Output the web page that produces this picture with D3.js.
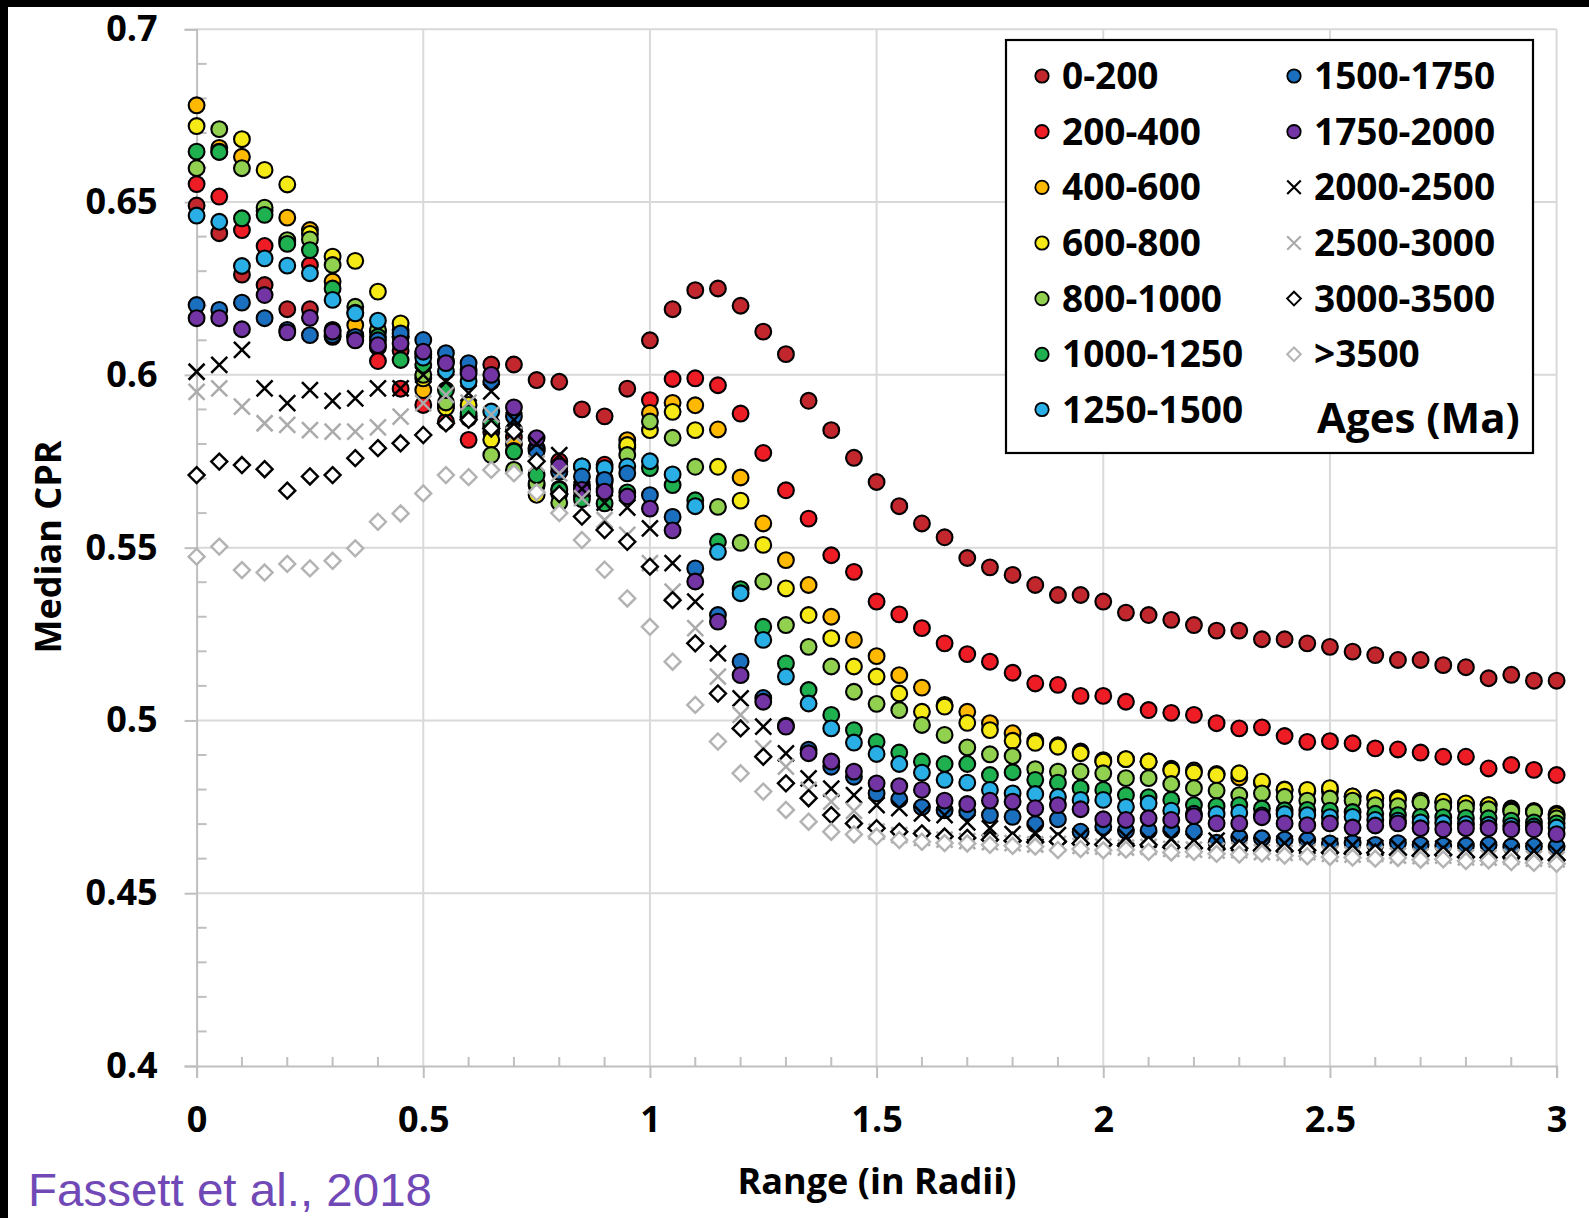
<!DOCTYPE html>
<html>
<head>
<meta charset="utf-8">
<script src="https://cdn.jsdelivr.net/npm/d3@7"></script>
<style>
  html, body { margin: 0; padding: 0; background: #fff; }
  svg { display: block; }
</style>
</head>
<body>
<svg id="chart" width="1589" height="1218"></svg>
<script>
// Range from crater centre, in crater radii
const ranges = [0,0.05,0.1,0.15,0.2,0.25,0.3,0.35,0.4,0.45,0.5,0.55,0.6,0.65,0.7,0.75,0.8,0.85,0.9,0.95,
  1,1.05,1.1,1.15,1.2,1.25,1.3,1.35,1.4,1.45,1.5,1.55,1.6,1.65,1.7,1.75,1.8,1.85,1.9,1.95,
  2,2.05,2.1,2.15,2.2,2.25,2.3,2.35,2.4,2.45,2.5,2.55,2.6,2.65,2.7,2.75,2.8,2.85,2.9,2.95,3];

// Median CPR per age bin (Ma)
const cpr0_200 = [0.649,0.641,0.629,0.626,0.619,0.619,0.613,0.611,0.608,0.607,
  0.606,0.604,0.6015,0.603,0.603,0.5985,0.598,0.590,0.588,0.596,
  0.610,0.619,0.6245,0.625,0.620,0.6125,0.606,0.5925,0.584,0.576,
  0.569,0.562,0.557,0.553,0.547,0.5443,0.5421,0.5392,0.5363,0.5363,
  0.5344,0.5312,0.5305,0.5291,0.5276,0.526,0.526,0.5235,0.5235,0.5223,
  0.5213,0.5199,0.5189,0.5175,0.5175,0.516,0.5154,0.5122,0.5132,0.5115,0.5115];
const cpr200_400 = [0.6552,0.6516,0.6419,0.6373,0.6385,0.6318,0.611,0.6115,0.604,0.596,
  0.5913,0.5865,0.5812,0.5835,0.582,0.5785,0.575,0.5735,0.574,0.579,
  0.5927,0.5988,0.599,0.597,0.5888,0.5774,0.5666,0.5584,0.5478,0.543,
  0.5344,0.5307,0.5267,0.5223,0.5192,0.517,0.5138,0.5107,0.5103,0.5071,
  0.5071,0.5054,0.503,0.5022,0.5016,0.4992,0.4977,0.498,0.4955,0.4938,
  0.494,0.4934,0.4919,0.4916,0.4907,0.4895,0.4895,0.4861,0.4871,0.4857,0.4842];
const cpr400_600 = [0.678,0.6657,0.6631,0.6475,0.6455,0.6419,0.627,0.6144,0.6125,0.613,
  0.5956,0.591,0.5875,0.585,0.580,0.568,0.567,0.568,0.570,0.5811,
  0.589,0.5919,0.5912,0.5842,0.5703,0.557,0.5464,0.5392,0.530,0.5233,
  0.5186,0.5131,0.5095,0.5045,0.5025,0.4992,0.4963,0.494,0.4928,0.491,
  0.4885,0.4888,0.4881,0.486,0.4855,0.4845,0.4835,0.482,0.480,0.4795,
  0.4795,0.478,0.4775,0.4775,0.4765,0.4762,0.4758,0.4755,0.4745,0.4735,0.473];
const cpr600_800 = [0.672,0.6646,0.6682,0.6593,0.6551,0.6408,0.6342,0.633,0.6241,0.6149,
  0.599,0.5905,0.5913,0.5812,0.578,0.5653,0.5655,0.567,0.569,0.5797,
  0.584,0.5893,0.584,0.5734,0.5636,0.5508,0.5382,0.5305,0.5238,0.5156,
  0.5127,0.5078,0.5025,0.504,0.4993,0.4972,0.4941,0.4935,0.4924,0.4905,
  0.4881,0.4888,0.4881,0.4855,0.4849,0.4842,0.4847,0.4823,0.4799,0.4799,
  0.4804,0.478,0.4775,0.4771,0.4768,0.4765,0.476,0.4755,0.474,0.4738,0.4725];
const cpr800_1000 = [0.6598,0.6711,0.6598,0.6484,0.639,0.6392,0.6318,0.6197,0.613,0.611,
  0.600,0.592,0.588,0.5768,0.5725,0.5686,0.563,0.565,0.567,0.5768,
  0.5865,0.5818,0.5734,0.5618,0.5514,0.5402,0.5276,0.5213,0.5156,0.5083,
  0.5048,0.503,0.4987,0.4958,0.4922,0.4902,0.4897,0.4859,0.4852,0.4852,
  0.4847,0.4833,0.4833,0.4816,0.4804,0.4797,0.4784,0.4789,0.4779,0.4768,
  0.4774,0.4768,0.4755,0.4752,0.4762,0.475,0.4746,0.4743,0.4736,0.4735,0.4717];
const cpr1000_1250 = [0.6646,0.6645,0.6453,0.6463,0.6379,0.6361,0.625,0.618,0.611,0.6043,
  0.6029,0.5956,0.5889,0.586,0.5778,0.571,0.5667,0.564,0.5628,0.566,
  0.573,0.5681,0.5637,0.5517,0.538,0.5271,0.5165,0.5088,0.5016,0.4972,
  0.4938,0.4907,0.4881,0.4874,0.4874,0.4842,0.485,0.4828,0.482,0.4804,
  0.4799,0.4784,0.4778,0.477,0.4755,0.4752,0.4755,0.4745,0.474,0.4741,
  0.4739,0.4735,0.473,0.4726,0.4721,0.472,0.4718,0.4717,0.471,0.4705,0.4702];
const cpr1250_1500 = [0.6461,0.6443,0.6315,0.6337,0.6316,0.6294,0.6217,0.6178,0.6157,0.611,
  0.605,0.601,0.5981,0.5894,0.5841,0.5788,0.572,0.5735,0.573,0.5735,
  0.575,0.5712,0.562,0.5488,0.5368,0.5233,0.5127,0.5049,0.4977,0.4936,
  0.4903,0.4874,0.4849,0.4828,0.482,0.4799,0.4789,0.4787,0.4779,0.477,
  0.477,0.475,0.476,0.4739,0.473,0.4729,0.4733,0.4725,0.4729,0.4726,
  0.472,0.4721,0.4712,0.471,0.4705,0.4703,0.470,0.4698,0.4695,0.4693,0.469];
const cpr1500_1750 = [0.6202,0.6188,0.6209,0.6164,0.613,0.6115,0.6115,0.611,0.610,0.612,
  0.6101,0.6063,0.6034,0.598,0.588,0.578,0.572,0.5706,0.5696,0.5715,
  0.5652,0.5589,0.544,0.5305,0.517,0.5065,0.4985,0.4915,0.4866,0.4837,
  0.4789,0.4772,0.4749,0.474,0.4735,0.4726,0.4721,0.470,0.4714,0.4678,
  0.4692,0.4681,0.4681,0.4683,0.4678,0.4646,0.4662,0.4659,0.4655,0.4654,
  0.4644,0.4645,0.464,0.4645,0.464,0.4638,0.4638,0.464,0.4635,0.4636,0.4635];
const cpr1750_2000 = [0.6164,0.6164,0.6132,0.6231,0.6123,0.6165,0.6125,0.610,0.6086,0.6091,
  0.6067,0.6034,0.6005,0.600,0.5906,0.5817,0.5735,0.5667,0.5662,0.5648,
  0.5613,0.555,0.5402,0.5286,0.5131,0.5054,0.4982,0.4905,0.4881,0.4852,
  0.4818,0.481,0.4799,0.4768,0.4758,0.4768,0.4765,0.4746,0.4755,0.4743,
  0.4714,0.4712,0.4717,0.4712,0.4723,0.4702,0.4702,0.472,0.4702,0.4697,
  0.4702,0.469,0.4696,0.4702,0.4688,0.4685,0.4688,0.4688,0.4685,0.4685,0.4671];
const cpr2000_2500 = [0.6009,0.6029,0.6072,0.5961,0.5918,0.5956,0.5925,0.5932,0.5961,0.5961,
  0.600,0.598,0.5947,0.5952,0.587,0.580,0.5768,0.567,0.563,0.5616,
  0.5556,0.5455,0.5344,0.5194,0.5064,0.4982,0.4905,0.4832,0.4803,0.4784,
  0.4755,0.4746,0.4731,0.4726,0.4705,0.4688,0.4671,0.4675,0.4668,0.4665,
  0.4662,0.4664,0.4655,0.4658,0.4650,0.4652,0.4645,0.4641,0.4644,0.4637,
  0.4636,0.4639,0.4631,0.4634,0.4628,0.4630,0.4624,0.4627,0.4621,0.4623,0.4618];
const cpr2500_3000 = [0.5951,0.5961,0.5908,0.586,0.5855,0.584,0.5836,0.5836,0.5848,0.5879,
  0.5918,0.5942,0.592,0.5885,0.5826,0.5744,0.5715,0.5643,0.558,0.5537,
  0.5455,0.5373,0.5267,0.5127,0.5016,0.4919,0.4866,0.4799,0.4765,0.4738,
  0.4678,0.4668,0.466,0.4655,0.4651,0.4648,0.4645,0.4641,0.4643,0.4637,
  0.4635,0.4632,0.4634,0.4628,0.4626,0.4623,0.4625,0.4619,0.4617,0.4619,
  0.4614,0.4612,0.4614,0.4609,0.4607,0.4609,0.4604,0.4603,0.4605,0.4600,0.4598];
const cpr3000_3500 = [0.571,0.5749,0.5739,0.5727,0.5665,0.5706,0.571,0.5759,0.5788,0.5802,
  0.5826,0.586,0.587,0.5845,0.5836,0.575,0.5655,0.559,0.5551,0.5517,
  0.5445,0.5348,0.5223,0.5078,0.4977,0.4895,0.4818,0.4775,0.4726,0.4702,
  0.4688,0.4678,0.4673,0.4664,0.466,0.4655,0.4652,0.4648,0.465,0.4644,
  0.4641,0.4638,0.4640,0.4633,0.4631,0.4628,0.463,0.4624,0.4622,0.4624,
  0.4618,0.4615,0.4617,0.4611,0.4609,0.4611,0.4605,0.4603,0.4605,0.4599,0.4596];
const cprOver3500 = [0.5474,0.5503,0.5435,0.5428,0.5453,0.544,0.5462,0.5498,0.5575,0.5599,
  0.5657,0.571,0.5704,0.5725,0.5715,0.566,0.560,0.5522,0.5436,0.5353,
  0.5271,0.517,0.5045,0.4939,0.4847,0.4794,0.4741,0.4707,0.4678,0.467,
  0.4664,0.4654,0.4649,0.4645,0.4644,0.4640,0.4637,0.4635,0.4625,0.4628,
  0.4624,0.4626,0.4620,0.4618,0.4620,0.4614,0.4612,0.4615,0.4609,0.4607,
  0.4605,0.4603,0.4600,0.4602,0.4597,0.4598,0.4593,0.4595,0.4590,0.4588,0.4585];

const ageLabels = ["0-200","200-400","400-600","600-800","800-1000","1000-1250","1250-1500",
  "1500-1750","1750-2000","2000-2500","2500-3000","3000-3500",">3500"];
const xTickValues = [0, 0.5, 1, 1.5, 2, 2.5, 3];
const yTickValues = [0.4, 0.45, 0.5, 0.55, 0.6, 0.65, 0.7];

// Marker styling per age bin
const markerStyles = [
  { kind: "circle", fill: "#C1272D" },
  { kind: "circle", fill: "#EE1C25" },
  { kind: "circle", fill: "#FFB900" },
  { kind: "circle", fill: "#F6EA16" },
  { kind: "circle", fill: "#92D050" },
  { kind: "circle", fill: "#1FB04F" },
  { kind: "circle", fill: "#29AEE6" },
  { kind: "circle", fill: "#1A6FBF" },
  { kind: "circle", fill: "#7334A4" },
  { kind: "cross",  stroke: "#000000" },
  { kind: "cross",  stroke: "#ABABAB" },
  { kind: "diamond", stroke: "#000000" },
  { kind: "diamond", stroke: "#B3B3B3" }
];
const seriesValues = [cpr0_200, cpr200_400, cpr400_600, cpr600_800, cpr800_1000, cpr1000_1250,
  cpr1250_1500, cpr1500_1750, cpr1750_2000, cpr2000_2500, cpr2500_3000, cpr3000_3500, cprOver3500];

const series = ageLabels.map((label, i) => ({
  label, style: markerStyles[i],
  points: ranges.map((r, j) => ({ r, v: seriesValues[i][j] }))
}));

const svg = d3.select("#chart");
const FONT = "'Open Sans', 'DejaVu Sans', sans-serif";

const x = d3.scaleLinear().domain([0, 3]).range([196.6, 1556.6]);
const y = d3.scaleLinear().domain([0.4, 0.7]).range([1066, 29.3]);

// Gridlines
const grid = svg.append("g").attr("stroke", "#D9D9D9").attr("stroke-width", 2);
grid.selectAll("line.h").data(yTickValues.filter(d => d > 0.4)).join("line")
  .attr("x1", x(0)).attr("x2", x(3)).attr("y1", d => y(d)).attr("y2", d => y(d));
grid.selectAll("line.v").data(xTickValues.filter(d => d > 0)).join("line")
  .attr("x1", d => x(d)).attr("x2", d => x(d)).attr("y1", y(0.4)).attr("y2", y(0.7));

// Minor ticks (inside)
const minor = svg.append("g").attr("stroke", "#BFBFBF").attr("stroke-width", 2);
minor.selectAll("line.my").data(d3.range(41, 70).filter(k => k % 5 !== 0).map(k => k / 100)).join("line")
  .attr("x1", x(0)).attr("x2", x(0) + 10).attr("y1", d => y(d)).attr("y2", d => y(d));
minor.selectAll("line.mx").data(d3.range(1, 30).filter(k => k % 5 !== 0).map(k => k / 10)).join("line")
  .attr("x1", d => x(d)).attr("x2", d => x(d)).attr("y1", y(0.4)).attr("y2", y(0.4) - 9);

// Axes
const xAxis = svg.append("g").attr("transform", `translate(0,${y(0.4)})`)
  .call(d3.axisBottom(x).tickValues(xTickValues).tickFormat(d => String(d)).tickSize(12).tickPadding(28));
const yAxis = svg.append("g").attr("transform", `translate(${x(0)},0)`)
  .call(d3.axisLeft(y).tickValues(yTickValues).tickFormat(d => String(d)).tickSize(12).tickPadding(27));
[xAxis, yAxis].forEach(a => {
  a.select(".domain").attr("stroke", "#BFBFBF").attr("stroke-width", 2);
  a.selectAll(".tick line").attr("stroke", "#BFBFBF").attr("stroke-width", 2);
  a.selectAll(".tick text").attr("fill", "#000").style("font-family", FONT)
    .style("font-size", "36px").style("font-weight", 700);
});

// Marker drawing
function drawMarker(sel, style, scale) {
  const k = scale || 1;
  if (style.kind === "circle") {
    sel.append("circle").attr("r", 7.9 * k).attr("fill", style.fill)
      .attr("stroke", "#000").attr("stroke-width", 2.1 * k);
  } else if (style.kind === "cross") {
    const s = 8 * k;
    sel.append("path").attr("d", `M${-s},${-s}L${s},${s}M${-s},${s}L${s},${-s}`)
      .attr("fill", "none").attr("stroke", style.stroke).attr("stroke-width", 2.5 * k);
  } else {
    const s = 8 * k;
    sel.append("path").attr("d", `M0,${-s}L${s},0L0,${s}L${-s},0Z`)
      .attr("fill", "#fff").attr("stroke", style.stroke).attr("stroke-width", 2.4 * k);
  }
}

const marks = svg.append("g");
series.forEach(s => {
  marks.append("g").selectAll("g").data(s.points).join("g")
    .attr("transform", d => `translate(${x(d.r)},${y(d.v)})`)
    .each(function() { drawMarker(d3.select(this), s.style); });
});

// Legend
const legend = svg.append("g");
legend.append("rect").attr("x", 1006).attr("y", 40).attr("width", 527).attr("height", 413)
  .attr("fill", "#fff").attr("stroke", "#000").attr("stroke-width", 2.2);
const rowY = [76, 131.7, 187.3, 243, 298.6, 354.3, 409.5];
series.forEach((s, i) => {
  const col = i < 7 ? 0 : 1;
  const row = i < 7 ? i : i - 7;
  const mx = col === 0 ? 1042 : 1294;
  const g = legend.append("g").attr("transform", `translate(${mx},${rowY[row]})`);
  drawMarker(g, s.style, s.style.kind === "circle" ? 0.85 : 0.85);
  legend.append("text").attr("x", mx + 20).attr("y", rowY[row] + 13)
    .style("font-family", FONT).style("font-size", "37px").style("font-weight", 700)
    .text(s.label);
});
legend.append("text").attr("x", 1317).attr("y", 433)
  .style("font-family", FONT).style("font-size", "42px").style("font-weight", 700)
  .text("Ages (Ma)");

// Axis titles
svg.append("text").attr("transform", "translate(61,547) rotate(-90)").attr("text-anchor", "middle")
  .style("font-family", FONT).style("font-size", "36px").style("font-weight", 700)
  .text("Median CPR");
svg.append("text").attr("x", 877).attr("y", 1194).attr("text-anchor", "middle")
  .style("font-family", FONT).style("font-size", "36px").style("font-weight", 700)
  .text("Range (in Radii)");

// Source
svg.append("text").attr("x", 28).attr("y", 1206)
  .attr("textLength", 404).attr("lengthAdjust", "spacingAndGlyphs")
  .style("font-family", "'Liberation Sans', Arial, sans-serif").style("font-size", "46px")
  .attr("fill", "#7049B7").text("Fassett et al., 2018");

// Frame edges
svg.append("rect").attr("x", 0).attr("y", 0).attr("width", 1589).attr("height", 7).attr("fill", "#000");
svg.append("rect").attr("x", 0).attr("y", 0).attr("width", 8).attr("height", 1218).attr("fill", "#000");
</script>
</body>
</html>
